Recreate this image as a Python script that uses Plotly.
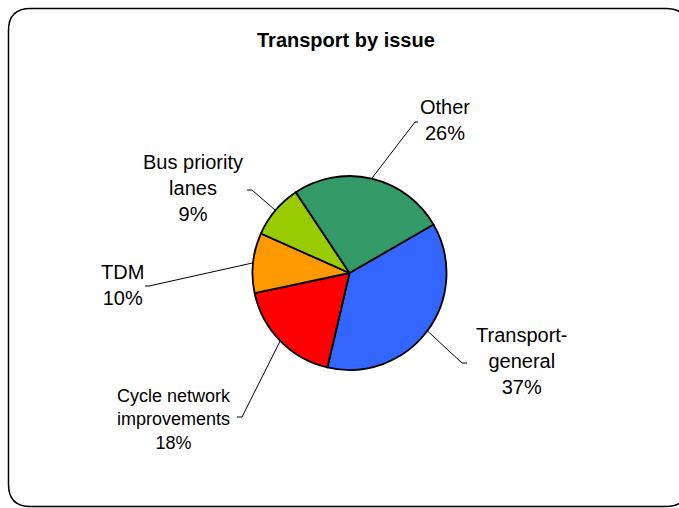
import numpy as np
import plotly.graph_objects as go

# ---- data ----
categories = ["Transport-general", "Cycle network improvements", "TDM",
              "Bus priority lanes", "Other"]
values = [37, 18, 10, 9, 26]
label_text = ["Transport-<br>general", "Cycle network<br>improvements", "TDM",
              "Bus priority<br>lanes", "Other"]
colors = ["#3366FF", "#FF0000", "#FF9900", "#99CC00", "#339966"]
title_text = "Transport by issue"

# ---- layout constants (page pixels) ----
W, H = 679, 508
CX, CY, R = 349.5, 273.0, 97.0
ROTATION = 60
FONT = "Liberation Sans, Arial, sans-serif"

# label centres and leader-line elbows (page pixel positions)
label_pos = [(522, 361), (174, 419), (122, 285), (193, 188), (445, 120)]
label_size = [20, 18, 20, 20, 20]
elbows = [((462, 363), (467, 363)),
          ((242, 417), (237, 417)),
          ((149, 286), (145, 286)),
          ((252, 190), (247, 190)),
          ((415, 122), (418, 122))]


def px(x):
    return x / W


def py(y):
    return 1 - y / H


fig = go.Figure()
fig.add_trace(go.Pie(
    labels=categories,
    values=values,
    sort=False,
    direction="clockwise",
    rotation=ROTATION,
    marker=dict(colors=colors, line=dict(color="black", width=1.8)),
    textinfo="none",
    hoverinfo="label+percent",
    showlegend=False,
    domain=dict(x=[px(CX - R), px(CX + R)], y=[py(CY + R), py(CY - R)]),
))

total = float(sum(values))
cum = np.cumsum(values)
shapes = []
annotations = []
for i, v in enumerate(values):
    start = ROTATION + 360.0 * (cum[i] - v) / total
    mid = np.radians(start + 180.0 * v / total)
    ex, ey = CX + R * np.sin(mid), CY - R * np.cos(mid)
    (e1x, e1y), (e2x, e2y) = elbows[i]
    shapes.append(dict(
        type="path", xref="paper", yref="paper",
        path=f"M {px(ex)},{py(ey)} L {px(e1x)},{py(e1y)} L {px(e2x)},{py(e2y)}",
        line=dict(color="black", width=1),
    ))
    pct = f"{round(100 * v / total)}%"
    lx, ly = label_pos[i]
    annotations.append(dict(
        x=px(lx), y=py(ly), xref="paper", yref="paper",
        text=f"{label_text[i]}<br>{pct}", showarrow=False,
        xanchor="center", yanchor="middle", align="center",
        font=dict(family=FONT, size=label_size[i], color="black"),
    ))

annotations.append(dict(
    x=px(346), y=py(40), xref="paper", yref="paper",
    text=f"<b>{title_text}</b>", showarrow=False,
    xanchor="center", yanchor="middle",
    font=dict(family=FONT, size=20, color="black"),
))

# rounded chart border
x0, y0, x1, y1, rr = 8.5, 8.5, 688, 506.5, 22
border = (f"M {px(x0 + rr)},{py(y0)} L {px(x1 - rr)},{py(y0)} "
          f"Q {px(x1)},{py(y0)} {px(x1)},{py(y0 + rr)} "
          f"L {px(x1)},{py(y1 - rr)} Q {px(x1)},{py(y1)} {px(x1 - rr)},{py(y1)} "
          f"L {px(x0 + rr)},{py(y1)} Q {px(x0)},{py(y1)} {px(x0)},{py(y1 - rr)} "
          f"L {px(x0)},{py(y0 + rr)} Q {px(x0)},{py(y0)} {px(x0 + rr)},{py(y0)} Z")
shapes.append(dict(type="path", xref="paper", yref="paper", path=border,
                   line=dict(color="black", width=1.5), layer="below"))

fig.update_layout(
    width=W, height=H,
    margin=dict(l=0, r=0, t=0, b=0),
    paper_bgcolor="white", plot_bgcolor="white",
    shapes=shapes, annotations=annotations,
)

fig.write_html(
    "out.html",
    config={"displayModeBar": False},
    post_script="document.body.style.margin='0';document.body.style.overflow='hidden';",
)
